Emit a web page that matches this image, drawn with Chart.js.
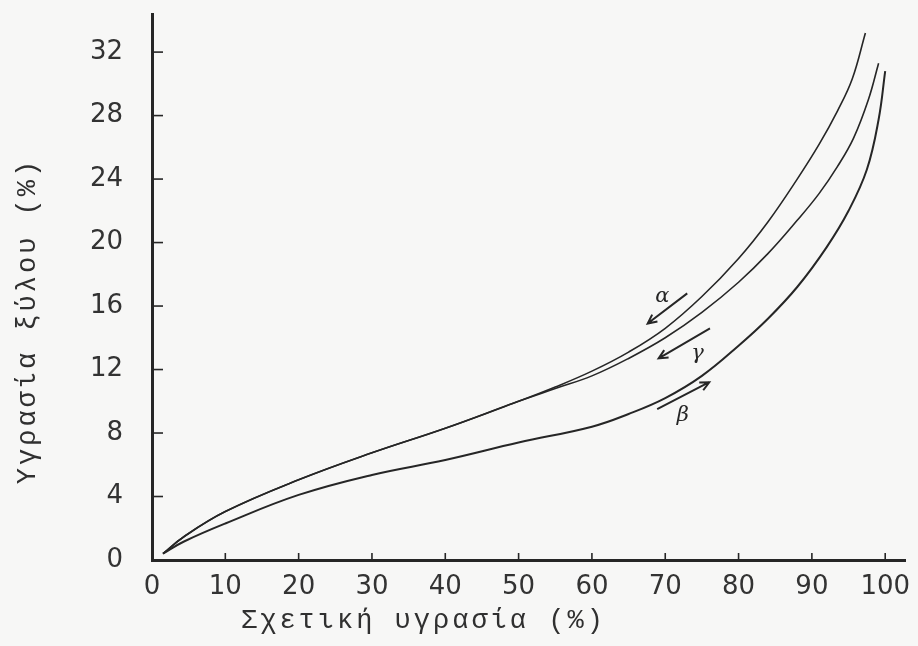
<!DOCTYPE html>
<html>
<head>
<meta charset="utf-8">
<script src="https://cdn.jsdelivr.net/npm/chart.js@4.4.1/dist/chart.umd.min.js"></script>
<style>
  html, body { margin: 0; padding: 0; background: #f7f7f6; }
  #wrap { width: 918px; height: 646px; }
</style>
</head>
<body>
<div id="wrap"><canvas id="sorption" width="918" height="646"></canvas></div>
<script>
// ticks
const xTicks = [0, 10, 20, 30, 40, 50, 60, 70, 80, 90, 100]
const yTicks = [0, 4, 8, 12, 16, 20, 24, 28, 32]

// curve α (desorption)
const alphaX = [1.5, 4.3, 10, 20, 30, 40, 50, 55, 60, 65, 70, 75, 80, 84, 88, 91, 93.5, 95.5, 97.3]
const alphaY = [0.4, 1.45, 3.05, 5.05, 6.75, 8.3, 10.0, 10.9, 11.9, 13.1, 14.6, 16.6, 19.0, 21.3, 24.0, 26.2, 28.3, 30.3, 33.2]

// curve γ
const gammaX = [1.5, 4.3, 10, 20, 30, 40, 50, 55, 60, 65, 70, 75, 80, 84, 88, 91, 93.5, 95.7, 97.7, 99.1]
const gammaY = [0.4, 1.45, 3.05, 5.05, 6.75, 8.3, 10.0, 10.8, 11.6, 12.7, 14.0, 15.6, 17.5, 19.3, 21.4, 23.1, 24.8, 26.6, 29.0, 31.3]

// curve β (adsorption)
const betaX = [1.5, 4.3, 10, 20, 30, 40, 50, 60, 65, 70, 75, 80, 84, 88, 92, 95, 97.5, 99.1, 100]
const betaY = [0.4, 1.15, 2.3, 4.1, 5.36, 6.3, 7.4, 8.4, 9.2, 10.2, 11.6, 13.5, 15.2, 17.2, 19.7, 22.0, 24.6, 27.75, 30.8]

// arrows next to the curves (data coords)
const arrowLabels = ['α', 'γ', 'β']
const arrowFrom = [[73.0, 16.8], [76.1, 14.6], [68.9, 9.5]]
const arrowTo = [[67.6, 14.9], [69.1, 12.7], [76.0, 11.2]]
const labelAt = [[69.6, 16.6], [74.4, 13.0], [72.4, 9.1]]

const xTitle = 'Σχετική υγρασία (%)'
const yTitle = 'Υγρασία ξύλου (%)'

function pts(xs, ys) {
    return xs.map((x, i) => ({ x: x, y: ys[i] }))
}

const ink = '#262626'

// little tick marks pointing into the plot, plus arrows and titles
const extras = {
    id: 'extras',
    afterDraw(chart) {
        const ctx = chart.ctx
        const xs = chart.scales.x
        const ys = chart.scales.y
        const area = chart.chartArea
        ctx.save()
        ctx.strokeStyle = ink
        ctx.lineWidth = 1.6
        xTicks.forEach(v => {
            if (v === 0) return
            const px = xs.getPixelForValue(v)
            ctx.beginPath()
            ctx.moveTo(px, area.bottom)
            ctx.lineTo(px, area.bottom - 7)
            ctx.stroke()
        })
        yTicks.forEach(v => {
            if (v === 0) return
            const py = ys.getPixelForValue(v)
            ctx.beginPath()
            ctx.moveTo(area.left, py)
            ctx.lineTo(area.left + 11, py)
            ctx.stroke()
        })

        // arrows
        ctx.lineWidth = 2
        arrowFrom.forEach((f, i) => {
            const x1 = xs.getPixelForValue(f[0]), y1 = ys.getPixelForValue(f[1])
            const x2 = xs.getPixelForValue(arrowTo[i][0]), y2 = ys.getPixelForValue(arrowTo[i][1])
            const a = Math.atan2(y2 - y1, x2 - x1)
            ctx.beginPath()
            ctx.moveTo(x1, y1)
            ctx.lineTo(x2, y2)
            ctx.moveTo(x2 - 10 * Math.cos(a - 0.45), y2 - 10 * Math.sin(a - 0.45))
            ctx.lineTo(x2, y2)
            ctx.lineTo(x2 - 10 * Math.cos(a + 0.45), y2 - 10 * Math.sin(a + 0.45))
            ctx.stroke()
        })
        ctx.fillStyle = ink
        ctx.font = 'italic 21px "DejaVu Serif"'
        ctx.textAlign = 'center'
        ctx.textBaseline = 'middle'
        labelAt.forEach((p, i) => {
            ctx.fillText(arrowLabels[i], xs.getPixelForValue(p[0]), ys.getPixelForValue(p[1]))
        })

        // axis titles
        ctx.fillStyle = '#303030'
        ctx.font = '27px "Liberation Mono"'
        ctx.letterSpacing = '3px'
        ctx.textAlign = 'left'
        ctx.textBaseline = 'middle'
        ctx.fillText(xTitle, area.left + 89, 621)
        ctx.translate(28, 321)
        ctx.rotate(-Math.PI / 2)
        ctx.textAlign = 'center'
        ctx.fillText(yTitle, 0, 0)
        ctx.restore()
    }
}

const ctx = document.getElementById('sorption')

const myChart = new Chart(ctx, {
    type: 'line',
    data: {
        datasets: [
            { label: 'α', data: pts(alphaX, alphaY), borderColor: ink, borderWidth: 1.6 },
            { label: 'γ', data: pts(gammaX, gammaY), borderColor: ink, borderWidth: 1.6 },
            { label: 'β', data: pts(betaX, betaY), borderColor: ink, borderWidth: 2 }
        ]
    },
    options: {
        responsive: false,
        animation: false,
        layout: { padding: { left: 0, right: 13, top: 14, bottom: 0 } },
        datasets: {
            line: {
                pointRadius: 0,
                fill: false,
                tension: 0.4
            }
        },
        plugins: {
            legend: { display: false },
            tooltip: { enabled: false }
        },
        scales: {
            x: {
                type: 'linear',
                min: 0,
                max: 102.7,
                afterBuildTicks: s => { s.ticks = xTicks.map(v => ({ value: v })) },
                afterFit: s => {
                    s.height = 86
                    s.paddingLeft = 0
                    s.paddingRight = 0
                },
                grid: { display: false, drawTicks: false },
                border: { display: true, color: ink, width: 3 },
                ticks: {
                    color: '#333',
                    padding: 12,
                    maxRotation: 0,
                    autoSkip: false,
                    font: { family: 'DejaVu Sans', size: 26 }
                }
            },
            y: {
                type: 'linear',
                min: 0,
                max: 34.4,
                afterBuildTicks: s => { s.ticks = yTicks.map(v => ({ value: v })) },
                afterFit: s => {
                    s.width = 152
                    s.paddingTop = 0
                    s.paddingBottom = 0
                },
                grid: { display: false, drawTicks: false },
                border: { display: true, color: ink, width: 3 },
                ticks: {
                    color: '#333',
                    padding: 29,
                    autoSkip: false,
                    font: { family: 'DejaVu Sans', size: 26 }
                }
            }
        }
    },
    plugins: [extras]
})
</script>
</body>
</html>
